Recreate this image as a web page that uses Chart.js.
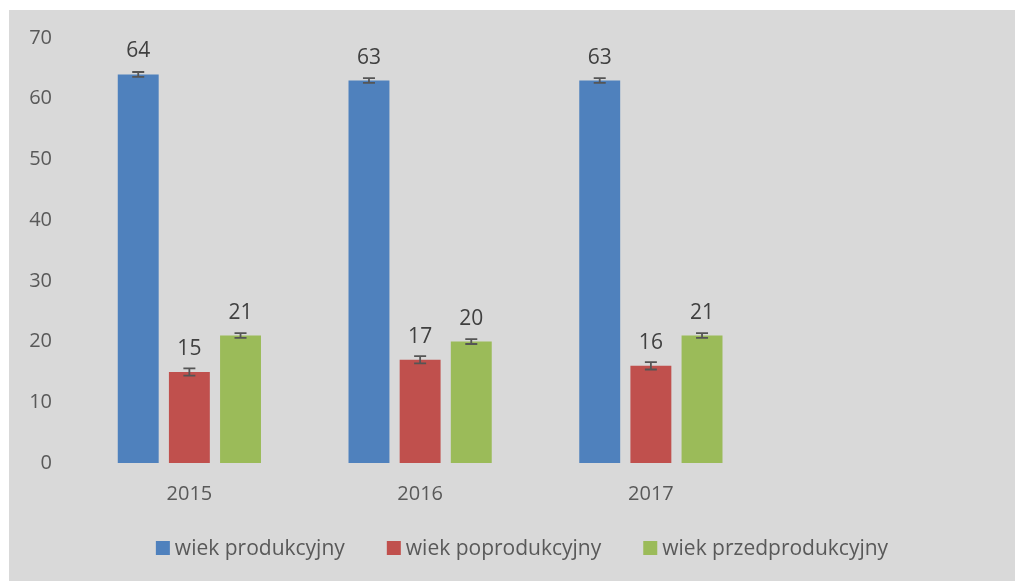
<!DOCTYPE html>
<html>
<head>
<meta charset="utf-8">
<script src="https://cdn.jsdelivr.net/npm/chart.js@4"></script>
<style>
  html, body { margin: 0; padding: 0; background: #fff; }
  #wrap { position: absolute; left: 9px; top: 10px; width: 1006px; height: 571px; }
</style>
</head>
<body>
<div id="wrap"><canvas id="chart"></canvas></div>
<script>
const years = ['2015', '2016', '2017', ''];
const produkcyjny = [64, 63, 63, null];
const poprodukcyjny = [15, 17, 16, null];
const przedprodukcyjny = [21, 20, 21, null];
const errProd = [0.4, 0.4, 0.4, null];
const errPoprod = [0.6, 0.6, 0.6, null];
const errPrzed = [0.4, 0.4, 0.4, null];

const textColor = '#595959';
const font = "'Open Sans', sans-serif";

const bgPlugin = {
  id: 'bg',
  beforeDraw(chart) {
    const ctx = chart.ctx;
    ctx.save();
    ctx.fillStyle = '#d9d9d9';
    ctx.fillRect(0, 0, chart.width, chart.height);
    ctx.restore();
  }
};

// whiskers and value labels on top of each bar
const barExtras = {
  id: 'barExtras',
  afterDatasetsDraw(chart) {
    const ctx = chart.ctx;
    const y = chart.scales.y;
    ctx.save();
    chart.data.datasets.forEach((ds, i) => {
      const meta = chart.getDatasetMeta(i);
      meta.data.forEach((bar, j) => {
        const v = ds.data[j];
        if (v == null) return;
        const e = ds.errors[j];
        const top = y.getPixelForValue(v + e);
        const bot = y.getPixelForValue(v - e);
        ctx.strokeStyle = '#555';
        ctx.lineWidth = 1.8;
        ctx.beginPath();
        ctx.moveTo(bar.x, top); ctx.lineTo(bar.x, bot);
        ctx.moveTo(bar.x - 6, top); ctx.lineTo(bar.x + 6, top);
        ctx.moveTo(bar.x - 6, bot); ctx.lineTo(bar.x + 6, bot);
        ctx.stroke();
        ctx.fillStyle = '#404040';
        ctx.font = "21px " + font;
        ctx.textAlign = 'center';
        ctx.textBaseline = 'alphabetic';
        ctx.fillText(String(v), bar.x, y.getPixelForValue(v) - 17);
      });
    });
    ctx.restore();
  }
};

// legend row under the axis, spaced like the original
const legendRow = {
  id: 'legendRow',
  afterDraw(chart) {
    const ctx = chart.ctx;
    ctx.save();
    ctx.font = "21px " + font;
    const items = chart.data.datasets.map(ds => ({
      text: ds.label, color: ds.backgroundColor, w: ctx.measureText(ds.label).width
    }));
    const box = 14, gapText = 5, gapItem = 42;
    let total = 0;
    items.forEach((it, i) => { total += box + gapText + it.w + (i ? gapItem : 0); });
    let x = 513 - total / 2;
    const cy = 538;
    ctx.textBaseline = 'middle';
    ctx.textAlign = 'left';
    items.forEach(it => {
      ctx.fillStyle = it.color;
      ctx.fillRect(x, cy - box / 2, box, box);
      ctx.fillStyle = textColor;
      ctx.fillText(it.text, x + box + gapText, cy + 1);
      x += box + gapText + it.w + gapItem;
    });
    ctx.restore();
  }
};

new Chart(document.getElementById('chart'), {
  type: 'bar',
  data: {
    labels: years,
    datasets: [
      { label: 'wiek produkcyjny', data: produkcyjny, errors: errProd, backgroundColor: '#4f81bd' },
      { label: 'wiek poprodukcyjny', data: poprodukcyjny, errors: errPoprod, backgroundColor: '#c0504d' },
      { label: 'wiek przedprodukcyjny', data: przedprodukcyjny, errors: errPrzed, backgroundColor: '#9bbb59' }
    ]
  },
  options: {
    responsive: true,
    maintainAspectRatio: false,
    animation: false,
    datasets: { bar: { categoryPercentage: 0.665, barPercentage: 0.8 } },
    layout: { padding: { left: 0, right: 18, top: 28, bottom: 0 } },
    scales: {
      x: {
        grid: { display: false, drawTicks: false },
        border: { display: false },
        ticks: { color: textColor, font: { family: font, size: 20 }, padding: 19 },
        afterFit(s) { s.height = 118; s.paddingLeft = 0; s.paddingRight = 0; }
      },
      y: {
        min: 0, max: 70,
        grid: { display: false, drawTicks: false },
        border: { display: false },
        ticks: { stepSize: 10, color: textColor, font: { family: font, size: 20 }, padding: 22 },
        afterFit(s) { s.width = 65; s.paddingTop = 0; s.paddingBottom = 0; }
      }
    },
    plugins: {
      legend: { display: false },
      tooltip: { enabled: false }
    }
  },
  plugins: [bgPlugin, barExtras, legendRow]
});
</script>
</body>
</html>
